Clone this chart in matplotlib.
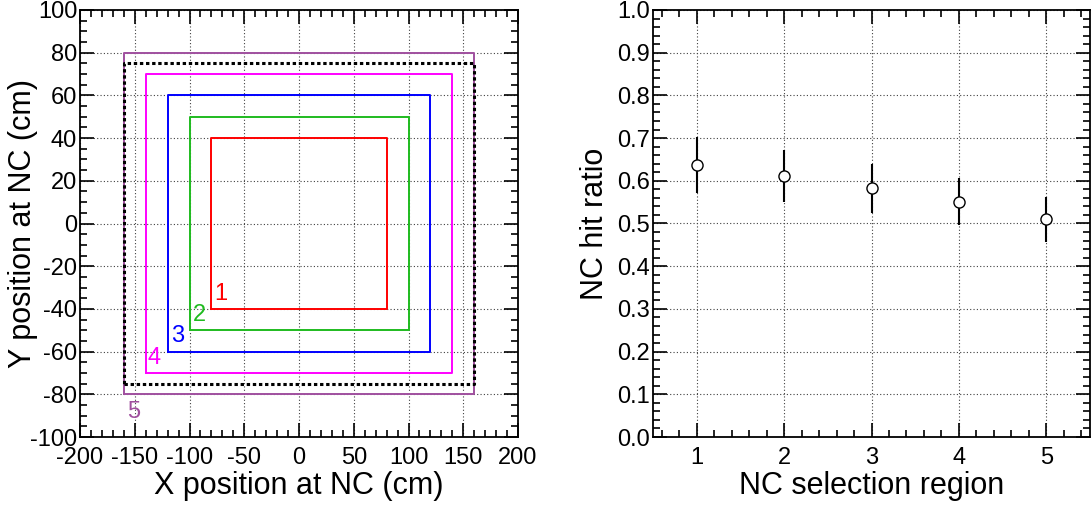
import matplotlib
matplotlib.use("Agg")
import matplotlib.pyplot as plt
from matplotlib.ticker import MultipleLocator

plt.rcParams['font.family'] = ['Liberation Sans', 'DejaVu Sans']
plt.rcParams['axes.unicode_minus'] = False

# selection regions (half widths in x / y, cm)
region_names = ['1', '2', '3', '4', '5']
half_x = [80, 100, 120, 140, 160]
half_y = [40, 50, 60, 70, 80]
region_colors = ['#ff0000', '#1fbb1f', '#0000ff', '#ff00ff', '#a0509f']
label_x = [-77, -97, -117, -138, -157]
label_y = [-38, -48, -58, -68, -83]

# NC acceptance (dotted)
nc_half_x = 160
nc_half_y = 75

# hit ratio per region
regions = [1, 2, 3, 4, 5]
hit_ratio = [0.637, 0.611, 0.582, 0.551, 0.510]
hit_err = [0.066, 0.060, 0.058, 0.055, 0.053]

fig = plt.figure(figsize=(10.91, 5.05), dpi=100)
ax1 = fig.add_axes([80 / 1091, 1 - 437 / 505, 438 / 1091, 427 / 505])
ax2 = fig.add_axes([653 / 1091, 1 - 437 / 505, 437 / 1091, 427 / 505])


def root_style(ax):
    ax.tick_params(which='both', direction='in', top=True, right=True,
                   width=1.2, labelsize=17)
    ax.tick_params(which='major', length=10)
    ax.tick_params(which='minor', length=5)
    ax.tick_params(axis='x', which='major', pad=7)
    ax.tick_params(axis='y', which='major', pad=2)
    for s in ax.spines.values():
        s.set_linewidth(1.3)
    ax.grid(True, which='major', color='0.25', linestyle=(0, (1, 2)), linewidth=0.8)
    ax.set_axisbelow(True)


# left panel: region boxes
for n, hx, hy, c, tx, ty in zip(region_names, half_x, half_y, region_colors, label_x, label_y):
    ax1.plot([-hx, hx, hx, -hx, -hx], [-hy, -hy, hy, hy, -hy], color=c, lw=1.4)
    va = 'top' if n == '5' else 'bottom'
    ax1.text(tx, ty, n, color=c, fontsize=17, ha='left', va=va)
ax1.plot([-nc_half_x, nc_half_x, nc_half_x, -nc_half_x, -nc_half_x],
         [-nc_half_y, -nc_half_y, nc_half_y, nc_half_y, -nc_half_y],
         color='black', lw=2.2, linestyle=(0, (1.1, 0.9)))
ax1.set_xlim(-200, 200)
ax1.set_ylim(-100, 100)
ax1.xaxis.set_major_locator(MultipleLocator(50))
ax1.xaxis.set_minor_locator(MultipleLocator(10))
ax1.yaxis.set_major_locator(MultipleLocator(20))
ax1.yaxis.set_minor_locator(MultipleLocator(5))
root_style(ax1)
ax1.set_xlabel('X position at NC (cm)', fontsize=22)
ax1.set_ylabel('Y position at NC (cm)', fontsize=22)
ax1.xaxis.set_label_coords(0.5, -0.08)
ax1.yaxis.set_label_coords(-0.096, 0.5)

# right panel: hit ratio
ax2.errorbar(regions, hit_ratio, yerr=hit_err, fmt='o', color='black',
             mfc='white', mec='black', ms=8, mew=1.0, elinewidth=1.5, capsize=0)
ax2.set_xlim(0.5, 5.5)
ax2.set_ylim(0.0, 1.0)
ax2.xaxis.set_major_locator(MultipleLocator(1))
ax2.xaxis.set_minor_locator(MultipleLocator(0.2))
ax2.yaxis.set_major_locator(MultipleLocator(0.1))
ax2.yaxis.set_minor_locator(MultipleLocator(0.02))
ax2.yaxis.set_major_formatter(plt.FormatStrFormatter('%.1f'))
root_style(ax2)
ax2.set_xlabel('NC selection region', fontsize=22)
ax2.set_ylabel('NC hit ratio', fontsize=22)
ax2.xaxis.set_label_coords(0.5, -0.08)
ax2.yaxis.set_label_coords(-0.098, 0.5)

fig.savefig('out.png', dpi=100)
